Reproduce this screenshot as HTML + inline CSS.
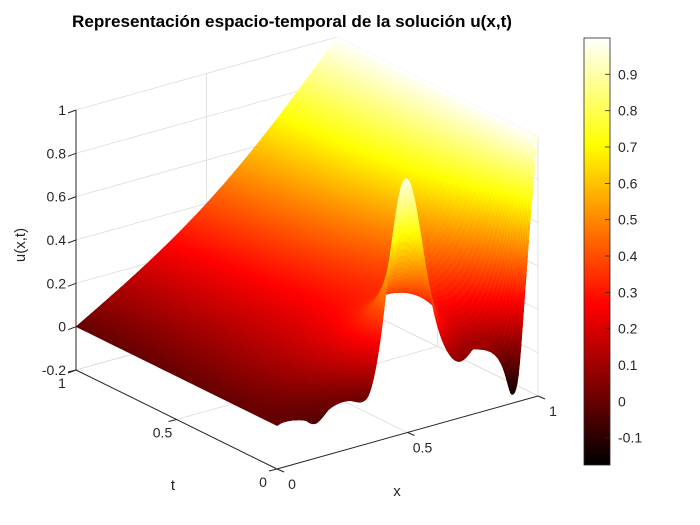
<!DOCTYPE html>
<html><head><meta charset="utf-8"><style>
html,body{margin:0;padding:0;background:#fff;}
svg{display:block;font-family:"Liberation Sans",Arial,sans-serif;}
</style></head><body>
<svg id="fig" width="700" height="525" viewBox="0 0 700 525">
<rect width="700" height="525" fill="#fff"/>
<g id="grid"></g>
<g id="surf"></g>
<g id="axes"></g>
<text x="292" y="27" text-anchor="middle" font-size="16.5" font-weight="bold" fill="#000" textLength="440" lengthAdjust="spacingAndGlyphs">Representación espacio-temporal de la solución u(x,t)</text>
<text transform="translate(25,245) rotate(-90)" text-anchor="middle" font-size="15" fill="#262626">u(x,t)</text>
<text x="173" y="490" text-anchor="middle" font-size="15" fill="#262626">t</text>
<text x="397" y="496" text-anchor="middle" font-size="15" fill="#262626">x</text>
<defs><linearGradient id="hotgrad" x1="0" y1="1" x2="0" y2="0">
<stop offset="0" stop-color="#000"/><stop offset="0.375" stop-color="#f00"/><stop offset="0.75" stop-color="#ff0"/><stop offset="1" stop-color="#fff"/>
</linearGradient></defs>
<g id="cbar">
<rect x="584" y="38" width="26" height="427" fill="url(#hotgrad)" stroke="#262626" stroke-width="0.8"/>
</g>
</svg>
<script>
// ---- data ----
const u0X = [0,0.025,0.05,0.075,0.1,0.125,0.15,0.175,0.2,0.225,0.25,0.275,0.3,0.325,0.35,0.375,0.4,0.425,0.45,0.475,0.5,0.525,0.55,0.575,0.6,0.625,0.65,0.675,0.7,0.725,0.75,0.775,0.8,0.825,0.85,0.875,0.9,0.925,0.95,0.975,1];
const u0Vals = [0,0.01,0.01,0.0,0.0,-0.03,-0.04,-0.02,0.01,0.025,0.03,0.025,0.01,0.0,0.02,0.12,0.3,0.55,0.78,0.94,0.97,0.88,0.7,0.5,0.33,0.21,0.13,0.08,0.06,0.07,0.1,0.12,0.12,0.1,0.05,-0.06,-0.16,-0.08,0.3,0.7,1];
const diffusivity = 0.11;
const zTicks = [-0.2,0,0.2,0.4,0.6,0.8,1];
const zTickLabels = ["-0.2","0","0.2","0.4","0.6","0.8","1"];
const xTicks = [0,0.5,1];
const xTickLabels = ["0","0.5","1"];
const tTicks = [0,0.5,1];
const tTickLabels = ["0","0.5","1"];
const cTicks = [-0.1,0,0.1,0.2,0.3,0.4,0.5,0.6,0.7,0.8,0.9];
const cTickLabels = ["-0.1","0","0.1","0.2","0.3","0.4","0.5","0.6","0.7","0.8","0.9"];
const cLim = [-0.175, 1.0];

// ---- projection ----
const B = [277,469], VX=[261,-73], VT=[-201,-99], ZS=216.7, ZMIN=-0.2;
function P(x,t,z){return [B[0]+VX[0]*x+VT[0]*t, B[1]+VX[1]*x+VT[1]*t-(z-ZMIN)*ZS];}
function depth(x,t,z){return 181.6*x+242*t-94.4*z;}
function hot(v){
  let s=(v-cLim[0])/(cLim[1]-cLim[0]); s=Math.max(0,Math.min(1,s));
  const r=Math.min(1,s/0.375), g=Math.max(0,Math.min(1,(s-0.375)/0.375)), b=Math.max(0,(s-0.75)/0.25);
  return `rgb(${Math.round(r*255)},${Math.round(g*255)},${Math.round(b*255)})`;
}
const NS="http://www.w3.org/2000/svg";
function el(tag,attrs,parent){const e=document.createElementNS(NS,tag);for(const k in attrs)e.setAttribute(k,attrs[k]);parent.appendChild(e);return e;}

// ---- solve heat equation ----
const N=200, dx=1/N;
let u=new Float64Array(N+1);
for(let i=0;i<=N;i++){
  const x=i*dx; let k=Math.min(u0X.length-2,Math.floor(x/0.025));
  const f=(x-u0X[k])/(u0X[k+1]-u0X[k]);
  const p0=u0Vals[Math.max(0,k-1)],p1=u0Vals[k],p2=u0Vals[k+1],p3=u0Vals[Math.min(u0Vals.length-1,k+2)];
  u[i]=0.5*((2*p1)+(-p0+p2)*f+(2*p0-5*p1+4*p2-p3)*f*f+(-p0+3*p1-3*p2+p3)*f*f*f);
}
u[0]=u0Vals[0]; u[N]=u0Vals[u0Vals.length-1];
const Nt=60, tS=[]; for(let j=0;j<=Nt;j++) tS.push(Math.pow(j/Nt,2));
const dt=0.4*dx*dx/diffusivity;
const rows=[Array.from(u)]; let tc=0, nu=new Float64Array(N+1);
for(let j=1;j<=Nt;j++){
  while(tc<tS[j]-1e-12){
    const h=Math.min(dt,tS[j]-tc), r=diffusivity*h/(dx*dx);
    nu[0]=u[0]; nu[N]=u[N];
    for(let i=1;i<N;i++) nu[i]=u[i]+r*(u[i+1]-2*u[i]+u[i-1]);
    [u,nu]=[nu,u]; tc+=h;
  }
  rows.push(Array.from(u));
}

// ---- grid ----
const grid=document.getElementById('grid');
function line(a,b,parent,stroke,w,name){
  const e=el('line',{x1:a[0].toFixed(1),y1:a[1].toFixed(1),x2:b[0].toFixed(1),y2:b[1].toFixed(1),stroke:stroke,'stroke-width':w},parent);
  
  
  return e;
}
const GC="#dcdcdc";
zTicks.forEach(z=>{line(P(0,1,z),P(1,1,z),grid,GC,0.8,'z-gridline-back');line(P(1,1,z),P(1,0,z),grid,GC,0.8,'z-gridline-right');});
xTicks.forEach(x=>{line(P(x,1,ZMIN),P(x,1,1),grid,GC,0.8,'x-gridline-wall');line(P(x,0,ZMIN),P(x,1,ZMIN),grid,GC,0.8,'x-gridline-floor');});
tTicks.forEach(t=>{line(P(1,t,ZMIN),P(1,t,1),grid,GC,0.8,'t-gridline-wall');line(P(0,t,ZMIN),P(1,t,ZMIN),grid,GC,0.8,'t-gridline-floor');});

// ---- surface ----
const surf=document.getElementById('surf');
const step=1, quads=[];
for(let j=0;j<Nt;j++){
  for(let i=0;i<N;i+=step){
    const x0=i*dx,x1=(i+step)*dx,t0=tS[j],t1=tS[j+1];
    const a=rows[j][i],b=rows[j][i+step],c=rows[j+1][i+step],d=rows[j+1][i];
    const zm=(a+b+c+d)/4;
    quads.push({dp:depth((x0+x1)/2,(t0+t1)/2,zm),pts:[P(x0,t0,a),P(x1,t0,b),P(x1,t1,c),P(x0,t1,d)],z:zm});
  }
}
quads.sort((p,q)=>q.dp-p.dp);
quads.forEach(q=>{
  const col=hot(q.z);
  const e=el('polygon',{points:q.pts.map(p=>p[0].toFixed(1)+','+p[1].toFixed(1)).join(' '),fill:col,stroke:col,'stroke-width':0.5,'stroke-linejoin':'round'},surf);
  
  
});

// ---- axes ----
const ax=document.getElementById('axes'), AC="#262626";
line(P(0,1,ZMIN),P(0,1,1),ax,AC,1,'z-axis-line');
line(P(0,1,ZMIN),P(0,0,ZMIN),ax,AC,1,'t-axis-line');
line(P(0,0,ZMIN),P(1,0,ZMIN),ax,AC,1,'x-axis-line');
function txt(s,x,y,anchor,name){
  const e=el('text',{x:x.toFixed(1),y:y.toFixed(1),'text-anchor':anchor,'font-size':14,fill:AC},ax);
  e.textContent=s;
  
  
}
zTicks.forEach((z,k)=>{const p=P(0,1,z);line(p,[p[0]-8,p[1]+3],ax,AC,1,'z-tick');txt(zTickLabels[k],p[0]-10,p[1]+5,'end','z-tick-label');});
tTicks.forEach((t,k)=>{const p=P(0,t,ZMIN);line(p,[p[0]-8,p[1]+2],ax,AC,1,'t-tick');txt(tTickLabels[k],p[0]-14,p[1]+18,'middle','t-tick-label');});
xTicks.forEach((x,k)=>{const p=P(x,0,ZMIN);line(p,[p[0]+7,p[1]+3],ax,AC,1,'x-tick');txt(xTickLabels[k],p[0]+15,p[1]+20,'middle','x-tick-label');});

// ---- colorbar ticks ----
const cb=document.getElementById('cbar');
function cy(v){return 465-(v-cLim[0])/(cLim[1]-cLim[0])*427;}
cTicks.forEach((v,k)=>{
  const y=cy(v);
  line([610,y],[605,y],cb,AC,0.8,'colorbar-tick');
  const e=el('text',{x:618,y:(y+5).toFixed(1),'font-size':14,fill:AC},cb);
  e.textContent=cTickLabels[k];
  
  
});
</script>
</body></html>
